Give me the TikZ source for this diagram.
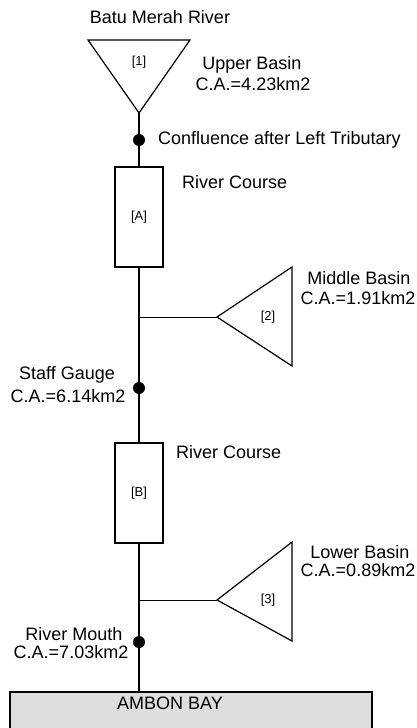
\documentclass[tikz,border=0pt]{standalone}
\usepackage{fontspec}
\setmainfont{Liberation Sans}
\begin{document}
\begin{tikzpicture}[x=1pt,y=-1pt,
  lbl/.style={inner sep=0pt,font=\fontsize{18}{20}\selectfont},
  tag/.style={inner sep=0pt,font=\fontsize{13}{15}\selectfont},
  course/.style={draw,line width=1.4pt,minimum width=48pt,minimum height=100pt,inner sep=0pt,font=\fontsize{13}{15}\selectfont},
  basin/.style={draw,line width=1.2pt,line join=miter},
  mainline/.style={line width=2.4pt},
  branch/.style={line width=0.9pt},
  station/.style={circle,fill=black,minimum size=12pt,inner sep=0pt},
  bay/.style={draw,line width=1.2pt,fill=black!13,inner sep=0pt}]
\useasboundingbox (0,0) rectangle (417,728);
% upper basin
\draw[basin] (88,40) -- (190,40) -- (139,113) -- cycle;
\coordinate (t1) at (139,113);
\node[tag] (l1) at (139,62) {[1]};
\node[lbl] (rivername) at (160,17) {Batu Merah River};
\node[lbl] (ub1) at (252,65) {Upper Basin};
\node[lbl] (ub2) at (253,84) {C.A.=4.23km2};
% confluence
\node[station] (conf) at (139,140) {};
\node[lbl,anchor=west] (conflbl) at (158,140) {Confluence after Left Tributary};
% course A
\node[course] (ca) at (139,217) {[A]};
\node[lbl,anchor=west] (calbl) at (182,182) {River Course};
% middle basin
\draw[basin] (217,317) -- (292,267) -- (292,366) -- cycle;
\coordinate (t2) at (217,317);
\node[tag] (l2) at (268,317) {[2]};
\node[lbl] (mb1) at (359,278) {Middle Basin};
\node[lbl] (mb2) at (358,298) {C.A.=1.91km2};
\coordinate (j2) at (139,317);
% staff gauge
\node[station] (sg) at (139,388) {};
\node[lbl] (sg1) at (67,375) {Staff Gauge};
\node[lbl] (sg2) at (68,396) {C.A.=6.14km2};
% course B
\node[course] (cb) at (139,493) {[B]};
\node[lbl,anchor=west] (cblbl) at (176,452) {River Course};
% lower basin
\draw[basin] (217,600) -- (292,542) -- (292,641) -- cycle;
\coordinate (t3) at (217,600);
\node[tag] (l3) at (268,600) {[3]};
\node[lbl] (lb1) at (360,552) {Lower Basin};
\node[lbl] (lb2) at (358,570) {C.A.=0.89km2};
\coordinate (j3) at (139,600);
% river mouth
\node[station] (rm) at (139,642) {};
\node[lbl] (rm1) at (74,634) {River Mouth};
\node[lbl] (rm2) at (71,652) {C.A.=7.03km2};
% bay
\node[bay,minimum width=362pt,minimum height=46pt] (bay) at (191,715) {};
\node[lbl] (baylbl) at (170,703) {AMBON BAY};
% main river line
\draw[mainline] (t1) -- (conf);
\draw[mainline] (conf) -- (ca.north);
\draw[mainline] (ca.south) -- (sg);
\draw[mainline] (sg) -- (cb.north);
\draw[mainline] (cb.south) -- (rm);
\draw[mainline] (rm) -- (bay.north -| rm);
% branches
\draw[branch] (j2) -- (t2);
\draw[branch] (j3) -- (t3);
\end{tikzpicture}
\end{document}
